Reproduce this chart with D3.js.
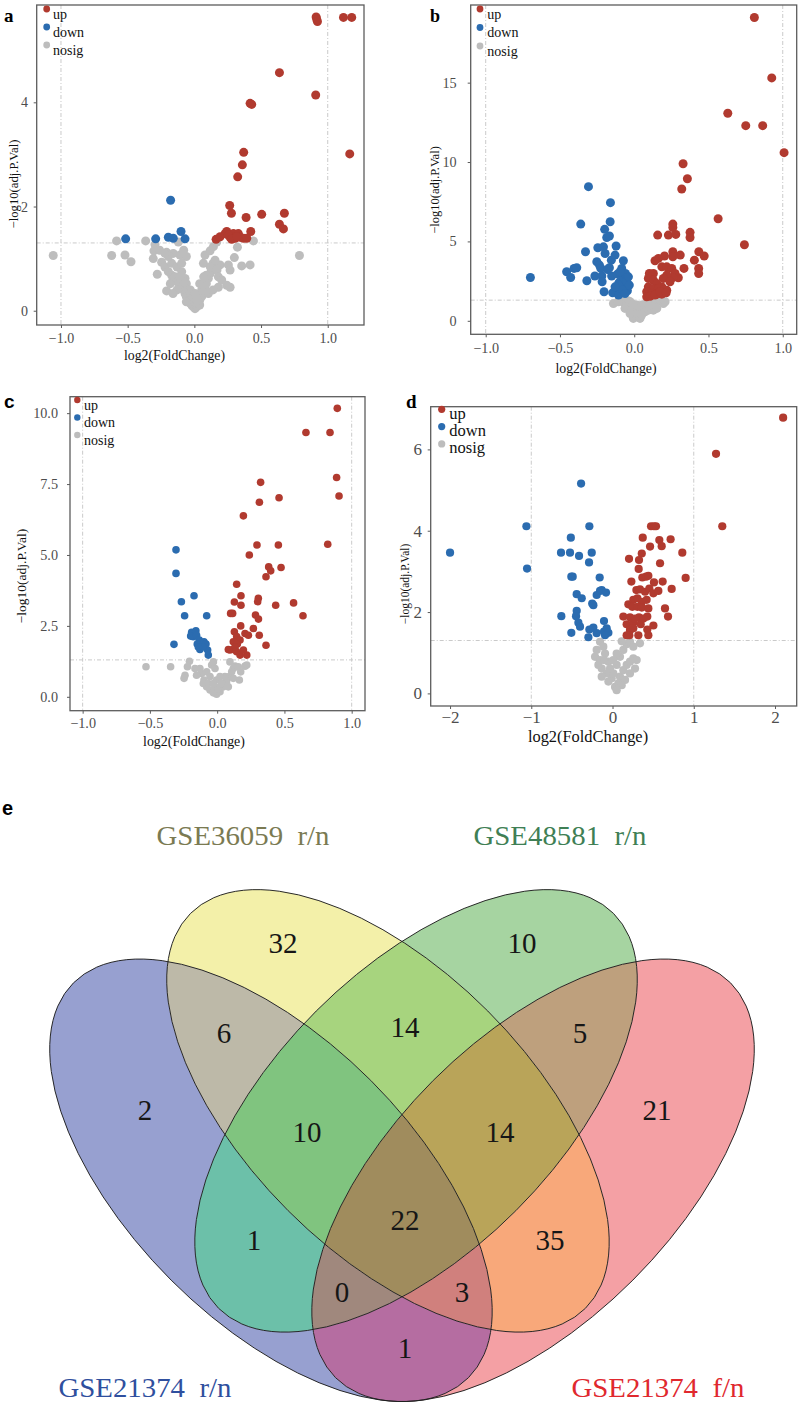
<!DOCTYPE html>
<html>
<head>
<meta charset="utf-8">
<script src="https://cdn.jsdelivr.net/npm/d3@7"></script>
<style>
  body { margin: 0; background: #fff; }
  svg { display: block; }
</style>
</head>
<body>
<div id="chart"></div>
<script>
const width = 800, height = 1405;
const serif = "'Liberation Serif', 'Times New Roman', serif";
const sans = "'Liberation Sans', Arial, sans-serif";

// ---- volcano data: [log2FC, -log10(adj.P.Val)] ----
const aUp = [[1.118,5.63],[1.18,5.63],[0.913,5.64],[0.918,5.59],[0.923,5.55],[0.638,4.57],[0.91,4.14],[0.418,3.98],[0.43,3.96],[1.165,3.01],[0.37,3.04],[0.36,2.80],[0.325,2.57],[0.265,2.02],[0.278,1.87],[0.388,1.79],[0.505,1.85],[0.675,1.87],[0.638,1.66],[0.668,1.57],[0.423,1.52],[0.163,1.37],[0.193,1.42],[0.23,1.48],[0.243,1.52],[0.268,1.41],[0.293,1.48],[0.305,1.39],[0.33,1.48],[0.343,1.41],[0.368,1.39],[0.393,1.39],[0.255,1.45],[0.28,1.37],[0.318,1.42]];
const aDown = [[-0.178,2.12],[-0.1,1.52],[-0.515,1.38],[-0.29,1.38],[-0.195,1.41],[-0.158,1.39],[-0.07,1.38]];
const aNosig = [[-1.058,1.06],[-0.583,1.34],[-0.365,1.34],[-0.62,1.06],[-0.52,1.07],[-0.475,0.94],[0.443,1.34],[0.323,1.22],[0.788,1.06],[0.418,0.88],[0.355,0.86],[0.30,1.02],[0.193,0.88],[0.255,0.88],[0.268,0.78],[0.243,0.49],[0.18,0.45],[0.268,0.45],[-0.208,0.38],[-0.278,0.70],[-0.245,0.93],[-0.308,1.0],[-0.303,1.15],[-0.295,1.27],[-0.208,1.12],[-0.158,1.10],[-0.12,1.32],[-0.108,1.07],[0.08,1.07],[0.118,1.15],[0.143,1.23],[0.168,1.32],[0.068,0.91],[-0.22,0.84],[-0.195,0.75],[-0.17,0.68],[-0.16,0.59],[-0.145,0.65],[-0.13,0.56],[-0.11,0.49],[-0.095,0.46],[-0.08,0.40],[-0.07,0.33],[-0.06,0.27],[-0.045,0.20],[-0.03,0.14],[-0.02,0.11],[-0.01,0.08],[0.005,0.04],[0.02,0.08],[0.03,0.14],[0.04,0.20],[0.055,0.27],[0.07,0.33],[0.08,0.43],[0.09,0.52],[0.105,0.62],[0.12,0.72],[0.13,0.81],[0.14,0.91],[0.155,0.97],[-0.17,0.91],[-0.13,0.84],[-0.095,0.75],[-0.07,0.62],[-0.06,0.52],[-0.03,0.40],[-0.02,0.27],[0.005,0.17],[0.03,0.24],[0.055,0.40],[0.08,0.56],[0.09,0.68],[0.12,0.84],[0.04,0.11],[-0.03,0.33],[-0.08,0.56],[-0.11,0.65],[-0.18,0.52],[-0.13,0.40],[-0.16,0.33],[0.04,0.52],[0.07,0.65],[-0.01,0.24],[0.02,0.20],[-0.06,0.17],[0.105,0.33],[0.14,0.40],[0.17,0.78],[0.18,0.65],[0.205,0.59],[-0.195,1.04],[-0.22,1.10],[-0.26,1.16],[-0.08,1.16],[-0.06,1.04],[-0.095,0.91],[0.005,0.33]];

const bUp = [[0.809,19.1],[0.926,15.3],[0.63,13.07],[0.751,12.29],[0.865,12.29],[1.009,10.59],[0.329,9.89],[0.358,8.95],[0.32,8.30],[0.565,6.43],[0.742,4.79],[0.26,6.09],[0.26,5.88],[0.158,5.40],[0.23,5.40],[0.28,5.44],[0.376,5.57],[0.376,5.25],[0.435,4.35],[0.471,4.08],[0.405,3.82],[0.434,3.30],[0.434,2.98],[0.335,3.30],[0.31,4.14],[0.26,4.35],[0.26,4.03],[0.204,4.08],[0.163,3.93],[0.14,3.78],[0.186,3.40],[0.219,3.40],[0.253,3.30],[0.275,2.98],[0.297,2.71],[0.26,2.73],[0.219,2.88],[0.196,2.67],[0.102,2.98],[0.129,2.98],[0.095,2.67],[0.129,2.56],[0.152,2.35],[0.186,2.14],[0.095,2.14],[0.129,2.04],[0.163,2.04],[0.196,1.93],[0.219,1.93],[0.084,1.83],[0.118,1.72],[0.152,1.68],[0.186,1.68],[0.084,1.51],[0.107,1.55],[0.14,1.62],[0.174,1.83],[0.215,1.76],[0.241,2.46]];
const bDown = [[-0.699,2.73],[-0.455,3.09],[-0.428,2.73],[-0.405,3.30],[-0.387,3.34],[-0.36,6.09],[-0.328,4.35],[-0.319,2.52],[-0.308,8.45],[-0.265,2.82],[-0.252,3.72],[-0.245,4.60],[-0.234,3.51],[-0.225,3.30],[-0.218,2.82],[-0.216,2.46],[-0.207,4.66],[-0.203,1.83],[-0.199,5.76],[-0.196,4.24],[-0.185,5.25],[-0.18,3.23],[-0.167,5.34],[-0.167,3.34],[-0.162,6.24],[-0.16,7.44],[-0.154,3.82],[-0.152,2.82],[-0.145,1.76],[-0.129,4.14],[-0.122,4.71],[-0.113,2.94],[-0.104,2.39],[-0.1,2.04],[-0.095,1.72],[-0.088,2.77],[-0.084,3.30],[-0.078,2.35],[-0.073,3.78],[-0.068,2.67],[-0.059,2.98],[-0.055,2.14],[-0.05,2.46],[-0.046,1.89],[-0.039,2.77],[-0.033,2.25],[-0.106,1.62],[-0.078,1.93],[-0.129,2.14],[-0.062,1.72],[-0.095,3.09]];
const bNosig = [[-0.077,1.20],[-0.05,0.99],[-0.028,0.67],[-0.006,0.36],[0.017,0.25],[0.039,0.46],[0.062,0.78],[0.084,1.09],[0.107,1.20],[0.14,1.09],[0.178,1.25],[0.196,1.09],[-0.039,1.25],[-0.017,0.88],[0.006,0.57],[0.028,0.67],[0.05,0.99],[-0.006,0.15],[0.021,0.36],[-0.062,0.78],[0.073,0.57],[0.118,0.88],[0.152,0.78],[0.095,0.67],[0.208,1.20],[-0.028,1.20],[0.017,0.99],[0.039,0.15],[-0.14,1.09],[-0.107,1.20],[0.129,0.67],[0.05,0.36],[-0.028,0.46],[0.1,0.95],[-0.01,1.05]];

const cUp = [[0.893,10.17],[0.66,9.32],[0.839,9.32],[0.888,7.73],[0.906,7.08],[0.323,7.56],[0.314,6.86],[0.46,7.02],[0.195,6.38],[0.296,5.35],[0.455,5.35],[0.822,5.38],[0.239,5.0],[0.383,4.58],[0.398,4.44],[0.475,4.56],[0.363,4.23],[0.145,3.97],[0.177,3.56],[0.128,3.34],[0.177,3.23],[0.306,3.47],[0.301,3.35],[0.435,3.23],[0.568,3.31],[0.1,2.94],[0.115,2.94],[0.285,2.88],[0.307,2.74],[0.638,2.86],[0.175,2.50],[0.269,2.41],[0.128,2.29],[0.207,2.23],[0.232,2.17],[0.313,2.17],[0.145,2.12],[0.17,2.0],[0.363,1.82],[0.12,1.94],[0.15,1.86],[0.095,1.65],[0.12,1.67],[0.145,1.59],[0.17,1.47],[0.22,1.47],[0.195,1.65],[0.133,1.76],[0.083,1.67]];
const cDown = [[-0.306,5.18],[-0.306,4.35],[-0.266,3.35],[-0.172,3.56],[-0.242,2.86],[-0.078,2.86],[-0.321,1.85],[-0.19,2.27],[-0.177,2.12],[-0.197,2.14],[-0.158,2.33],[-0.153,2.17],[-0.133,2.0],[-0.148,1.86],[-0.128,1.67],[-0.098,1.94],[-0.083,1.86],[-0.071,1.65],[-0.066,1.47],[-0.108,1.76],[-0.14,1.76]];
const cNosig = [[-0.529,1.06],[-0.346,1.06],[-0.206,1.25],[-0.221,1.06],[-0.239,0.76],[-0.246,0.65],[-0.165,1.0],[-0.116,0.82],[-0.098,0.59],[-0.078,0.35],[-0.053,0.24],[-0.028,0.14],[-0.004,0.09],[0.021,0.18],[0.046,0.35],[0.07,0.53],[0.09,0.71],[0.108,0.88],[0.12,1.0],[0.133,1.08],[0.095,1.23],[0.157,1.06],[0.175,0.88],[0.165,0.59],[0.207,1.08],[0.22,1.12],[-0.016,1.0],[-0.041,1.12],[-0.028,1.23],[-0.128,1.0],[-0.103,0.47],[-0.066,0.47],[-0.016,0.35],[0.009,0.29],[0.033,0.47],[0.058,0.71],[-0.004,0.59],[-0.053,0.71],[-0.078,0.88],[-0.153,0.76],[0.083,0.35],[0.12,0.65],[0.021,0.71],[-0.028,0.47]];

const dUp = [[2.10,6.78],[1.274,5.89],[1.351,4.11],[0.474,4.11],[0.51,4.11],[0.535,4.11],[0.372,3.83],[0.576,3.77],[0.715,3.79],[0.462,3.61],[0.605,3.62],[0.859,3.46],[0.36,3.44],[0.203,3.31],[0.326,3.28],[0.585,3.20],[0.322,3.06],[0.367,2.85],[0.413,2.87],[0.441,2.89],[0.9,2.84],[0.232,2.75],[0.51,2.73],[0.617,2.75],[0.294,2.54],[0.338,2.56],[0.4,2.50],[0.453,2.58],[0.503,2.46],[0.564,2.52],[0.728,2.57],[0.256,2.30],[0.306,2.34],[0.36,2.25],[0.42,2.30],[0.195,2.19],[0.244,2.13],[0.306,2.13],[0.36,2.11],[0.441,2.09],[0.646,2.09],[0.133,1.89],[0.215,1.87],[0.326,1.87],[0.428,1.89],[0.683,1.89],[0.174,1.70],[0.256,1.74],[0.347,1.70],[0.503,1.67],[0.215,1.56],[0.256,1.60],[0.428,1.57],[0.207,1.43],[0.318,1.43],[0.441,1.43],[0.277,1.84],[0.38,1.84],[0.174,1.43]];
const dDown = [[-2.0,3.46],[-1.06,4.11],[-1.052,3.07],[-0.387,5.16],[-0.285,4.11],[-0.513,3.83],[-0.634,3.46],[-0.523,3.46],[-0.412,3.38],[-0.256,3.46],[-0.289,3.22],[-0.507,2.87],[-0.49,2.87],[-0.158,2.85],[-0.441,2.44],[-0.379,2.34],[-0.25,2.21],[-0.236,2.17],[-0.195,2.42],[-0.154,2.52],[-0.133,2.54],[-0.08,2.48],[-0.63,1.90],[-0.441,2.03],[-0.449,1.90],[-0.42,1.74],[-0.4,1.64],[-0.507,1.49],[-0.285,1.57],[-0.236,1.62],[-0.297,1.38],[-0.195,1.48],[-0.105,1.78],[-0.105,1.52],[-0.072,1.60],[-0.051,1.49],[-0.092,1.43]];
const dNosig = [[-0.154,1.27],[-0.113,1.15],[-0.195,1.07],[-0.215,0.90],[-0.154,0.82],[-0.092,0.98],[-0.051,0.78],[-0.133,0.61],[-0.072,0.49],[-0.01,0.37],[0.031,0.16],[0.072,0.25],[0.092,0.41],[0.133,0.57],[0.174,0.70],[0.215,0.78],[0.256,0.86],[0.297,0.82],[0.277,0.61],[0.215,0.49],[0.154,0.33],[0.113,0.20],[0.01,0.49],[-0.031,0.61],[0.051,0.70],[0.092,0.90],[0.133,1.07],[0.174,1.21],[0.215,1.27],[0.338,1.23],[0.256,1.15],[0.051,0.98],[0.01,0.82],[-0.105,0.82],[-0.174,0.70],[-0.133,0.41],[-0.051,0.29],[0.051,0.08],[0.113,1.28]];

const legendLabels = ["up", "down", "nosig"];
const xTicksA = [-1, -0.5, 0, 0.5, 1], yTicksA = [0, 2, 4];
const xTicksB = [-1, -0.5, 0, 0.5, 1], yTicksB = [0, 5, 10, 15];
const xTicksC = [-1, -0.5, 0, 0.5, 1], yTicksC = [0, 2.5, 5, 7.5, 10];
const xTicksD = [-2, -1, 0, 1, 2], yTicksD = [0, 2, 4, 6];
const fcCut = [-1, 1];
const pCut = -Math.log10(0.05);

// ---- venn data ----
const vennSets = ["GSE21374 r/n", "GSE36059 r/n", "GSE48581 r/n", "GSE21374 f/n"];
const vennRegions = ["1", "2", "3", "4", "12", "23", "34", "123", "234", "1234", "13", "24", "14", "134", "124"];
const vennValues = [2, 32, 10, 21, 6, 14, 5, 10, 14, 22, 1, 35, 1, 0, 3];

const colors = {up: "#b13a2f", down: "#2b6cb0", nosig: "#bdbdbd"};

const svg = d3.select("#chart").append("svg")
  .attr("width", width)
  .attr("height", height);

const panels = [
  {up: aUp, down: aDown, nosig: aNosig, box: {l: 36.7, r: 364, t: 5, b: 325},
   xDomain: [-1.182, 1.272], yDomain: [-0.274, 5.868], xTicks: xTicksA, yTicks: yTicksA,
   xFmt: ".1f", yFmt: "d", tickFont: 14, xPad: 5.1, yPad: 5.7, r: 4.5,
   xTitle: [174.5, 360], xTitleFont: 13.8, yTitle: [13.5, 184], yTitleFont: 12.7,
   legend: {x: 46.7, y: 9, tx: 53, gap: 18, font: 14, r: 3.4},
   letter: {text: "a", x: 4, y: 22, font: serif, size: 19}},
  {up: bUp, down: bDown, nosig: bNosig, box: {l: 470.7, r: 796.7, t: 5, b: 334.3},
   xDomain: [-1.101, 1.094], yDomain: [-0.85, 19.89], xTicks: xTicksB, yTicks: yTicksB,
   xFmt: ".1f", yFmt: "d", tickFont: 14.2, xPad: 5.6, yPad: 11, r: 4.5,
   xTitle: [606, 372.5], xTitleFont: 13.8, yTitle: [435, 190], yTitleFont: 12.5,
   legend: {x: 480, y: 9, tx: 487.3, gap: 18.5, font: 14, r: 3.4},
   letter: {text: "b", x: 430, y: 22, font: serif, size: 18}},
  {up: cUp, down: cDown, nosig: cNosig, box: {l: 70, r: 365, t: 396.7, b: 710.7},
   xDomain: [-1.094, 1.099], yDomain: [-0.49, 10.58], xTicks: xTicksC, yTicks: yTicksC,
   xFmt: ".1f", yFmt: ".1f", tickFont: 14.2, xPad: 4.2, yPad: 9, r: 3.8,
   xTitle: [194, 746], xTitleFont: 13.9, yTitle: [21, 576], yTitleFont: 13.5,
   legend: {x: 77.3, y: 400, tx: 84, gap: 17.5, font: 14, r: 3.2},
   letter: {text: "c", x: 4, y: 408, font: sans, size: 19}},
  {up: dUp, down: dDown, nosig: dNosig, box: {l: 430.7, r: 796.7, t: 406.7, b: 706},
   xDomain: [-2.238, 2.267], yDomain: [-0.31, 7.05], xTicks: xTicksD, yTicks: yTicksD,
   xFmt: "d", yFmt: "d", tickFont: 17, xPad: 1.9, yPad: 5.7, r: 4.1,
   xTitle: [588, 741.5], xTitleFont: 16.4, yTitle: [405, 584], yTitleFont: 11.5,
   legend: {x: 441.7, y: 409.3, tx: 449.3, gap: 17.3, font: 16.5, r: 3.6},
   letter: {text: "d", x: 406, y: 408, font: serif, size: 19}}
];

panels.forEach(drawVolcano);

function drawVolcano(p) {
  const g = svg.append("g");
  const x = d3.scaleLinear().domain(p.xDomain).range([p.box.l, p.box.r]);
  const y = d3.scaleLinear().domain(p.yDomain).range([p.box.b, p.box.t]);

  // cut-off guides
  g.selectAll(".vcut")
    .data(fcCut.filter(d => d > p.xDomain[0] && d < p.xDomain[1]))
    .enter()
    .append("line")
    .attr("x1", d => x(d)).attr("x2", d => x(d))
    .attr("y1", p.box.t).attr("y2", p.box.b)
    .attr("stroke", "#cacaca")
    .attr("stroke-width", 1)
    .attr("stroke-dasharray", "4,2,1,2");
  g.append("line")
    .attr("x1", p.box.l).attr("x2", p.box.r)
    .attr("y1", y(pCut)).attr("y2", y(pCut))
    .attr("stroke", "#cacaca")
    .attr("stroke-width", 1)
    .attr("stroke-dasharray", "4,2,1,2");

  // points
  [["nosig", p.nosig], ["down", p.down], ["up", p.up]].forEach(([k, pts]) => {
    g.append("g")
      .selectAll("circle")
      .data(pts)
      .enter()
      .append("circle")
      .attr("cx", d => x(d[0]))
      .attr("cy", d => y(d[1]))
      .attr("r", p.r)
      .attr("fill", colors[k]);
  });

  // panel border
  g.append("rect")
    .attr("x", p.box.l).attr("y", p.box.t)
    .attr("width", p.box.r - p.box.l)
    .attr("height", p.box.b - p.box.t)
    .attr("fill", "none")
    .attr("stroke", "#5c5c5c")
    .attr("stroke-width", 1.3);

  // axes
  const gx = g.append("g")
    .attr("transform", `translate(0,${p.box.b})`)
    .call(d3.axisBottom(x).tickValues(p.xTicks).tickFormat(d3.format(p.xFmt))
      .tickSize(3).tickPadding(p.xPad));
  const gy = g.append("g")
    .attr("transform", `translate(${p.box.l},0)`)
    .call(d3.axisLeft(y).tickValues(p.yTicks).tickFormat(d3.format(p.yFmt))
      .tickSize(3).tickPadding(p.yPad));
  [gx, gy].forEach(ax => {
    ax.select(".domain").remove();
    ax.attr("font-family", serif).attr("font-size", p.tickFont);
    ax.selectAll("line").attr("stroke", "#5c5c5c");
    ax.selectAll("text").attr("fill", "#4d4d4d");
  });

  // axis titles
  g.append("text")
    .attr("x", p.xTitle[0]).attr("y", p.xTitle[1])
    .attr("text-anchor", "middle")
    .style("font-family", serif)
    .style("font-size", p.xTitleFont + "px")
    .attr("fill", "#111")
    .text("log2(FoldChange)");
  g.append("text")
    .attr("transform", `translate(${p.yTitle[0]},${p.yTitle[1]}) rotate(-90)`)
    .attr("text-anchor", "middle")
    .attr("dy", "0.35em")
    .style("font-family", serif)
    .style("font-size", p.yTitleFont + "px")
    .attr("fill", "#111")
    .text("\u2212log10(adj.P.Val)");

  // legend
  const lg = g.append("g");
  lg.selectAll("circle")
    .data(legendLabels)
    .enter()
    .append("circle")
    .attr("cx", p.legend.x)
    .attr("cy", (d, i) => p.legend.y + i * p.legend.gap)
    .attr("r", p.legend.r)
    .attr("fill", d => colors[d]);
  lg.selectAll("text")
    .data(legendLabels)
    .enter()
    .append("text")
    .attr("x", p.legend.tx)
    .attr("y", (d, i) => p.legend.y + i * p.legend.gap + 9.5)
    .style("font-family", serif)
    .style("font-size", p.legend.font + "px")
    .attr("fill", "#111")
    .text(d => d);

  // panel letter
  svg.append("text")
    .attr("x", p.letter.x).attr("y", p.letter.y)
    .style("font-family", p.letter.font)
    .style("font-size", p.letter.size + "px")
    .style("font-weight", "bold")
    .text(p.letter.text);
}

// ---- Venn (e) ----
const vx = d3.scaleLinear().domain([0, 1]).range([12, 792]);
const vy = d3.scaleLinear().domain([0, 1]).range([1550, 770]);
const ellipses = [
  {cx: 0.332, cy: 0.474, rot: -45},
  {cx: 0.482, cy: 0.563, rot: -45},
  {cx: 0.518, cy: 0.563, rot: 45},
  {cx: 0.668, cy: 0.474, rot: 45}
];
const ellA = 0.358, ellB = 0.181;
const regionColor = {
  "1": "#97a0d0", "2": "#f3f0a9", "3": "#a6d4a1", "4": "#f4a0a4",
  "12": "#bdb9a8", "23": "#a7d47e", "34": "#bea07d",
  "123": "#80c47f", "234": "#b9a459", "1234": "#a08c5d",
  "13": "#6cc0a9", "24": "#f8a87a", "14": "#b56da1",
  "134": "#a0887d", "124": "#d0807d"
};
const regionLabelPos = {
  "1": [0.1705, 0.5641], "2": [0.3474, 0.7782], "3": [0.6538, 0.7782], "4": [0.8269, 0.5641],
  "12": [0.2718, 0.6628], "23": [0.5038, 0.6705], "34": [0.7282, 0.6628],
  "123": [0.3782, 0.5359], "234": [0.6256, 0.5359], "1234": [0.5038, 0.4231],
  "13": [0.3103, 0.3974], "24": [0.6897, 0.3974], "14": [0.5038, 0.2590],
  "134": [0.4231, 0.3308], "124": [0.5769, 0.3308]
};
const setLabelPos = [[0.1705, 0.1962], [0.2962, 0.9038], [0.7026, 0.9038], [0.8282, 0.1962]];
const setLabelColor = ["#2f4f9e", "#7a7a52", "#3f7f55", "#e0282e"];

function ellipseAttrs(sel) {
  sel.attr("cx", d => vx(d.cx))
    .attr("cy", d => vy(d.cy))
    .attr("rx", vx(ellA) - vx(0))
    .attr("ry", vx(ellB) - vx(0))
    .attr("transform", d => `rotate(${-d.rot},${vx(d.cx)},${vy(d.cy)})`);
}

const defs = svg.append("defs");
ellipses.forEach((e, i) => {
  defs.append("clipPath").attr("id", "vclip-" + i)
    .append("ellipse").datum(e).call(ellipseAttrs);
});

const vennG = svg.append("g");
vennRegions.forEach(code => {
  const members = code.split("").map(c => +c - 1);
  const others = d3.range(4).filter(i => !members.includes(i));
  let g = vennG;
  members.forEach(i => { g = g.append("g").attr("clip-path", `url(#vclip-${i})`); });
  const rect = g.append("rect")
    .attr("x", 0).attr("y", 760).attr("width", width).attr("height", height - 760)
    .attr("fill", regionColor[code]);
  if (others.length) {
    const m = defs.append("mask").attr("id", "vmask-" + code)
      .attr("maskUnits", "userSpaceOnUse")
      .attr("x", 0).attr("y", 760).attr("width", width).attr("height", height - 760);
    m.append("rect").attr("x", 0).attr("y", 760).attr("width", width).attr("height", height - 760)
      .attr("fill", "#fff");
    m.selectAll("ellipse").data(others.map(i => ellipses[i])).enter()
      .append("ellipse").call(ellipseAttrs).attr("fill", "#000");
    rect.attr("mask", `url(#vmask-${code})`);
  }
});

vennG.selectAll(".outline")
  .data(ellipses)
  .enter()
  .append("ellipse")
  .attr("class", "outline")
  .call(ellipseAttrs)
  .attr("fill", "none")
  .attr("stroke", "#1e1e1e")
  .attr("stroke-width", 0.9);

vennG.selectAll(".count")
  .data(vennRegions)
  .enter()
  .append("text")
  .attr("class", "count")
  .attr("x", d => vx(regionLabelPos[d][0]))
  .attr("y", d => vy(regionLabelPos[d][1]))
  .attr("dy", "0.35em")
  .attr("text-anchor", "middle")
  .style("font-family", serif)
  .style("font-size", "29px")
  .attr("fill", "#161616")
  .text((d, i) => vennValues[i]);

// set names: wide gap before the suffix, as in the original monospaced face
vennG.selectAll(".setname")
  .data(vennSets)
  .enter()
  .append("text")
  .attr("class", "setname")
  .attr("x", (d, i) => vx(setLabelPos[i][0]))
  .attr("y", (d, i) => vy(setLabelPos[i][1]))
  .attr("text-anchor", "middle")
  .attr("textLength", 173)
  .attr("lengthAdjust", "spacingAndGlyphs")
  .style("font-family", serif)
  .style("font-size", "28px")
  .style("white-space", "pre")
  .attr("fill", (d, i) => setLabelColor[i])
  .text(d => d.replace(" ", "\u2002"));

svg.append("text")
  .attr("x", 2).attr("y", 815)
  .style("font-family", sans)
  .style("font-size", "20px")
  .style("font-weight", "bold")
  .text("e");
</script>
</body>
</html>
